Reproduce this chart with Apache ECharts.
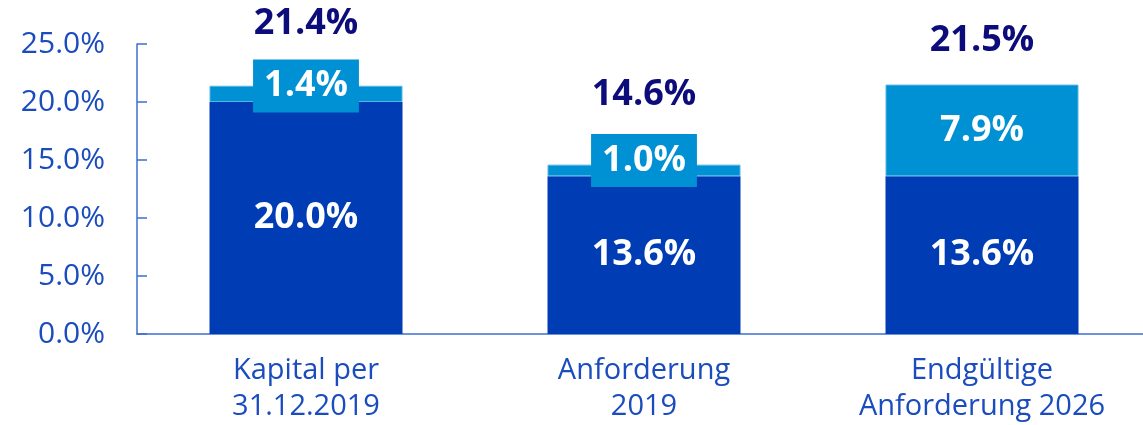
<!DOCTYPE html>
<html lang="de">
<head>
    <meta charset="UTF-8">
    <title>Kapital</title>
    <style>
        body { margin: 0; background: #fff; }
        #main { width: 1143px; height: 425px; }
    </style>
</head>
<body>
    <div id="main"></div>
    <script src="https://cdn.jsdelivr.net/npm/echarts@6/dist/echarts.min.js"></script>
    <script>
        // Daten
        var categories = ['Kapital per\n31.12.2019', 'Anforderung\n2019', 'Endgültige\nAnforderung 2026'];
        var baseValues = [20.0, 13.6, 13.6];
        var addValues = [1.4, 1.0, 7.9];
        var totals = [21.4, 14.6, 21.5];

        var font = 'Open Sans';
        var boxShift = [-8, -10, 0];
        var totalGap = [42, 50, 24];

        var myChart = echarts.init(document.getElementById('main'));
        var option = {
            animation: false,
            grid: { left: 137, width: 1014, top: 44, bottom: 91, outerBoundsMode: 'none', containLabel: false },
            xAxis: {
                type: 'category',
                data: categories,
                axisLine: { lineStyle: { color: '#3d6fcf', width: 1.5 } },
                axisTick: { show: false },
                axisLabel: {
                    color: '#1a4cbe', fontFamily: font, fontSize: 29,
                    lineHeight: 36, margin: 19, interval: 0
                }
            },
            yAxis: {
                type: 'value',
                min: 0, max: 25, interval: 5,
                splitLine: { show: false },
                axisLine: { show: true, lineStyle: { color: '#3d6fcf', width: 1.5 } },
                axisTick: { show: true, inside: true, length: 10, lineStyle: { color: '#3d6fcf', width: 1.5 } },
                axisLabel: {
                    color: '#1a4cbe', fontFamily: font, fontSize: 30, margin: 32,
                    formatter: function (v) { return v.toFixed(1) + '%'; }
                }
            },
            series: [
                {
                    type: 'bar',
                    stack: 'a',
                    barWidth: 193,
                    data: baseValues,
                    itemStyle: { color: '#003db4' },
                    label: {
                        show: true, position: 'inside', color: '#fff',
                        fontFamily: font, fontSize: 36, fontWeight: 'bold',
                        formatter: function (p) { return p.value.toFixed(1) + '%'; }
                    }
                },
                {
                    type: 'bar',
                    stack: 'a',
                    data: addValues.map(function (v, i) {
                        return { value: v, label: { offset: [0, boxShift[i]] } };
                    }),
                    itemStyle: { color: '#0090d4', borderColor: '#55b4e4', borderWidth: 1 },
                    label: {
                        show: true, position: 'inside', color: '#fff',
                        fontFamily: font, fontSize: 36, fontWeight: 'bold',
                        backgroundColor: '#0090d4', padding: [6, 11], lineHeight: 41,
                        formatter: function (p) { return p.value.toFixed(1) + '%'; }
                    }
                },
                {
                    type: 'scatter',
                    symbolSize: 0,
                    itemStyle: { color: '#0c0c7a', opacity: 1 },
                    data: totals.map(function (v, i) {
                        return { value: v, label: { distance: totalGap[i] } };
                    }),
                    label: {
                        show: true, position: 'top', color: '#0c0c7a',
                        fontFamily: font, fontSize: 36, fontWeight: 'bold', lineHeight: 40,
                        formatter: function (p) { return p.value.toFixed(1) + '%'; }
                    }
                }
            ]
        };
        myChart.setOption(option);
    </script>
</body>
</html>
